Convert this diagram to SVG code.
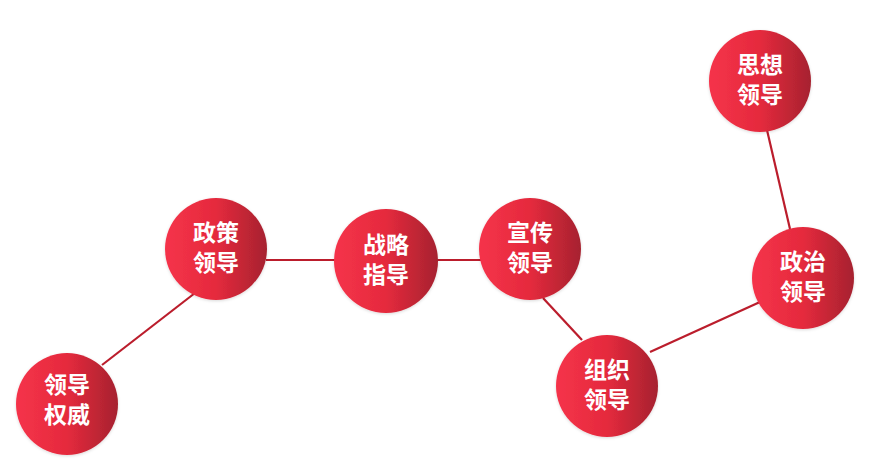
<svg xmlns="http://www.w3.org/2000/svg" width="881" height="472" viewBox="0 0 881 472">
<defs>
<linearGradient id="g" x1="0" y1="0" x2="1" y2="0">
<stop offset="0" stop-color="#f5334a"/>
<stop offset="0.5" stop-color="#e52a3d"/>
<stop offset="1" stop-color="#a6222f"/>
</linearGradient>
<filter id="sh" x="-20%" y="-20%" width="140%" height="140%">
<feDropShadow dx="0" dy="1" stdDeviation="1.5" flood-color="#000" flood-opacity="0.15"/>
</filter>
</defs>
<style>
.n circle{fill:url(#g);filter:url(#sh)}
.n text{fill:#fff;font-family:"Noto Sans CJK SC","Noto Sans",sans-serif;font-weight:bold;font-size:23px;text-anchor:middle}
.c line{stroke:#bb1d2c;stroke-width:2.2}
</style>
<rect width="881" height="472" fill="#fff"/>
<g id="connectors" class="c">
<line x1="102" y1="365" x2="195" y2="293"/>
<line x1="266" y1="260" x2="335" y2="260"/>
<line x1="436" y1="260" x2="482" y2="260"/>
<line x1="543" y1="298" x2="582" y2="340"/>
<line x1="650" y1="352" x2="760" y2="302"/>
<line x1="767" y1="130" x2="790" y2="229"/>
</g>
<g id="n1" class="n"><circle cx="67" cy="404" r="51"/><text x="67" y="393">领导</text><text x="67" y="423">权威</text></g>
<g id="n2" class="n"><circle cx="216" cy="249" r="51"/><text x="216" y="241">政策</text><text x="216" y="271">领导</text></g>
<g id="n3" class="n"><circle cx="386" cy="261" r="52"/><text x="386" y="253">战略</text><text x="386" y="283">指导</text></g>
<g id="n4" class="n"><circle cx="530" cy="249" r="51"/><text x="530" y="241">宣传</text><text x="530" y="271">领导</text></g>
<g id="n5" class="n"><circle cx="607" cy="386" r="51"/><text x="607" y="378">组织</text><text x="607" y="408">领导</text></g>
<g id="n6" class="n"><circle cx="803" cy="278" r="51"/><text x="803" y="270">政治</text><text x="803" y="300">领导</text></g>
<g id="n7" class="n"><circle cx="760" cy="81" r="51"/><text x="760" y="73">思想</text><text x="760" y="103">领导</text></g>
</svg>
